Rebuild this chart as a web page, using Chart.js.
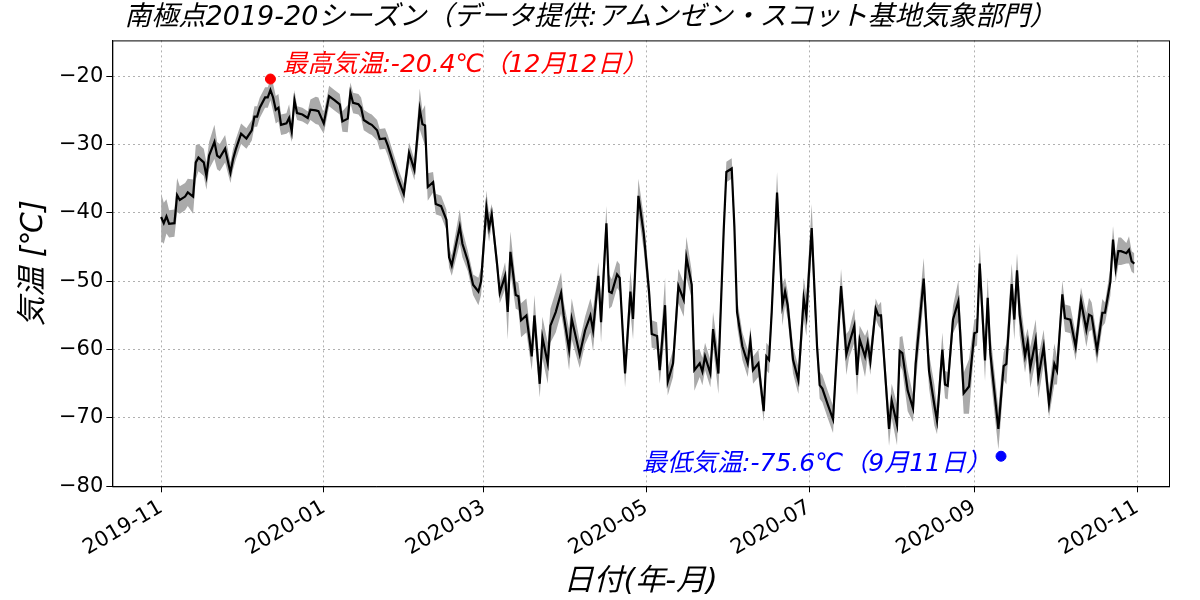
<!DOCTYPE html>
<html>
<head>
<meta charset="utf-8">
<script src="https://cdn.jsdelivr.net/npm/chart.js@4"></script>
<style>body{margin:0;background:#fff}</style>
</head>
<body>
<canvas id="c" width="1200" height="600"></canvas>
<script>
// day number from 2019-11-01, mean temp, half width of the grey band
var daily = [
[0,-40.6,3.5],[1,-41.5,3],[2,-40.5,2.5],[3,-41.6,2],[5,-41.5,2],[6,-37.4,2.5],[7,-38.1,2],[9,-37.6,2],[10,-37,2],[12,-37.6,2.5],
[13,-32.6,2.5],[14,-31.9,2],[16,-32.6,2],[17,-34.6,2],[18,-31.6,2],[20,-29.6,2.5],[21,-31.6,2],[22,-31.9,2],[24,-30.6,2],[26,-34.1,1.5],
[27,-32.1,1.5],[28,-30.7,1.5],[30,-28.4,1.5],[32,-29.1,1.5],[34,-27.9,1.5],[35,-25.9,1.5],[36,-25.9,1.5],[37,-24.6,1.5],[39,-23.1,1.5],[40,-23.1,1.5],
[41,-22,1.5],[42,-23.1,2],[43,-24.9,2],[44,-24.6,2],[45,-27.1,1.5],[47,-26.9,1.5],[48,-26.1,2],[49,-28.1,1.5],[50,-23.5,1.5],[51,-25.4,1],
[53,-25.6,1],[55,-26.1,1],[56,-24.9,1.5],[58,-25,2],[59,-25.1,2],[61,-26.9,1.5],[63,-22.9,1.5],[65,-23.5,1.5],[67,-24.1,1.5],[68,-26.6,1.5],
[70,-26.2,2],[71,-22.4,1.5],[72,-23.9,1.5],[74,-24.1,1.5],[75,-24.6,1.5],[76,-26.4,1.5],[78,-26.9,1.5],[79,-27.1,1.5],[81,-27.9,1.5],[82,-29.2,1.5],
[84,-29.1,1.5],[85,-30.1,1.5],[87,-32.6,1.5],[89,-35.1,1.5],[91,-37.2,1.5],[93,-31.2,1.5],[95,-33.7,1.5],[97,-24.8,3],[98,-27,2],[99,-27.2,3],
[100,-36.2,2],[102,-35.5,1.5],[103,-38.7,1.5],[105,-39,1.5],[107,-41,1.5],[108,-46.5,1.5],[109,-47.7,1.5],[112,-42,2.5],[113,-44.5,2],[115,-47,1.5],
[117,-50.5,1.5],[119,-51.5,2],[120,-50,2],[122,-39.2,2.5],[123,-42.2,2],[124,-40.2,1.5],[126,-47.5,1.5],[127,-51.7,1.5],[129,-49.2,2],[130,-54.5,4],
[131,-45.7,3],[133,-52,2],[134,-52.2,2],[135,-55.7,2.5],[137,-55,2.5],[139,-61,2],[140,-55,3],[142,-65,2],[143,-58.2,3],[145,-62,3],
[146,-56.5,2.5],[148,-54.5,3],[150,-51.7,3],[151,-55,2],[153,-60,3],[154,-55.5,3],[157,-60.7,2],[159,-57.2,2],[161,-55,2.5],[162,-57.2,3],
[164,-49.2,2],[165,-56,3],[167,-41.5,2.5],[168,-51.5,2.5],[169,-51.7,2],[171,-49,2],[172,-49.5,2],[174,-63.5,2],[176,-51.5,3],[177,-55.5,3],
[179,-37.5,2.5],[181,-43,2.5],[183,-51.5,2],[184,-57.7,2],[186,-58,2],[187,-63,2],[189,-53.5,4],[190,-64.7,2],[192,-62,2],[194,-50.7,2.5],
[196,-52.7,2.5],[197,-46.5,3],[199,-50.5,2],[200,-63,3],[202,-62,2],[203,-63.2,2],[204,-61,2],[206,-63.5,2],[207,-57,2.5],[209,-63.5,3],
[211,-42.5,2],[212,-34,1.5],[214,-33.5,1.5],[215,-42,2],[216,-54.5,2],[218,-59.5,2],[220,-62,2],[221,-58.7,2],[222,-63,2],[224,-62,2],
[226,-69,1.5],[227,-61,2],[228,-61.5,2],[229,-54.5,2],[231,-37,3],[233,-53.5,3],[234,-51.5,2],[235,-53.5,2],[237,-61.5,2],[239,-64.5,2],
[241,-52.5,3],[242,-55,3],[244,-42.2,3.5],[246,-59.5,2],[247,-65.2,2],[248,-65.7,2],[250,-68,2],[252,-70.2,2],[253,-63.5,2],[255,-50.7,2.5],
[257,-60.7,3],[258,-59.2,2],[260,-56.5,2.5],[261,-63.7,3],[262,-58.5,2],[264,-61,3],[265,-59,2],[266,-61.7,2],[268,-54,1.5],[269,-55,1.5],
[270,-55,2],[271,-60.5,2],[273,-71.6,2.5],[274,-67.5,2.5],[276,-71,3],[277,-60.2,2],[278,-60.5,2.5],[280,-66,3],[282,-68.6,2],[283,-62,3],
[286,-49.6,3],[288,-63.1,2.5],[290,-68.1,3],[291,-70.4,2],[293,-60,2.5],[294,-65.1,2],[295,-65.3,2],[297,-55.6,2],[299,-52.9,3],[301,-66.4,3],
[303,-65.4,4],[305,-57.6,2],[306,-57.4,2],[307,-47.4,3],[309,-61.6,3],[310,-52.4,3],[311,-60.6,3],[314,-71.6,3],[315,-67,3],[316,-62.4,2],
[317,-62.1,3],[319,-50.4,3],[320,-55.6,3],[321,-48.4,2.5],[322,-54.9,3],[324,-60.9,2.5],[325,-58.9,2],[326,-62.6,3],[328,-58.6,3],[329,-64.1,3],
[331,-59.6,2.5],[333,-67.9,2],[335,-62.1,3],[336,-63.1,2],[338,-51.9,2],[339,-55.4,2],[341,-55.6,2],[343,-59.6,2],[345,-52.9,2],[347,-57.1,2.5],
[348,-54.9,2.5],[349,-55.1,2],[351,-60.1,2],[353,-54.6,2],[354,-54.6,1.5],[356,-50.1,2],[357,-43.9,2],[358,-48.1,2],[359,-45.6,2],[360,-45.6,2],
[362,-45.9,1.5],[363,-45.4,2],[364,-47.1,1.5],[365,-47.4,1.5]
]
var tickDays = [0, 61, 121, 182, 243, 305, 366]
var tickLabels = ["2019-11", "2020-01", "2020-03", "2020-05", "2020-07", "2020-09", "2020-11"]
var yTicks = [-80, -70, -60, -50, -40, -30, -20]
var maxPoint = {x: 41, y: -20.4, text: "最高気温:-20.4℃（12月12日）"}
var minPoint = {x: 315, y: -75.6, text: "最低気温:-75.6℃（9月11日）"}

var meanData = daily.map(function(r){ return {x: r[0], y: r[1]} })
var lowData = daily.map(function(r){ return {x: r[0], y: r[1] - r[2]} })
var highData = daily.map(function(r){ return {x: r[0], y: r[1] + r[2]} })

var FONT = "'DejaVu Sans', 'Noto Sans CJK JP', sans-serif"

var notePlugin = {
  id: "notes",
  afterDraw: function(chart){
    var ctx = chart.ctx, xs = chart.scales.x, ys = chart.scales.y, a = chart.chartArea
    ctx.save()
    // box around the plot
    ctx.strokeStyle = "#000"
    ctx.lineWidth = 1
    ctx.strokeRect(a.left + 0.5, a.top + 0.5, a.right - a.left, a.bottom - a.top)
    ctx.font = "italic 25px " + FONT
    ctx.textBaseline = "middle"
    ctx.fillStyle = "red"
    ctx.textAlign = "left"
    ctx.fillText(maxPoint.text, xs.getPixelForValue(maxPoint.x) + 12, ys.getPixelForValue(maxPoint.y) - 14)
    ctx.fillStyle = "blue"
    ctx.textAlign = "right"
    ctx.fillText(minPoint.text, xs.getPixelForValue(minPoint.x) - 10, ys.getPixelForValue(minPoint.y) + 8)
    ctx.restore()
  }
}

new Chart(document.getElementById("c"), {
  type: "scatter",
  data: {
    datasets: [
      {data: [maxPoint], order: 0, pointRadius: 5, backgroundColor: "red", borderColor: "red"},
      {data: [minPoint], order: 0, pointRadius: 5, backgroundColor: "blue", borderColor: "blue"},
      {data: meanData, order: 1, showLine: true, pointRadius: 0, borderWidth: 2.2, borderColor: "#000"},
      {data: lowData, order: 3, showLine: true, pointRadius: 0, borderWidth: 0, borderColor: "rgba(0,0,0,0)", fill: false},
      {data: highData, order: 2, showLine: true, pointRadius: 0, borderWidth: 0, borderColor: "rgba(0,0,0,0)", fill: "-1", backgroundColor: "#aaaaaa"}
    ]
  },
  options: {
    responsive: false,
    animation: false,
    devicePixelRatio: 1,
    layout: {padding: {left: 12, right: 31, top: 2, bottom: 0}},
    plugins: {
      legend: {display: false},
      tooltip: {enabled: false},
      title: {display: true, text: "南極点2019-20シーズン（データ提供:アムンゼン・スコット基地気象部門）",
        color: "#000", font: {family: FONT, size: 27, style: "italic", weight: "normal"}, padding: {top: 0, bottom: 6}}
    },
    scales: {
      x: {
        type: "linear", min: -18.3, max: 378,
        afterBuildTicks: function(axis){ axis.ticks = tickDays.map(function(v){ return {value: v} }) },
        ticks: {
          callback: function(v){ return tickLabels[tickDays.indexOf(v)] },
          maxRotation: 30, minRotation: 30, color: "#000", font: {family: FONT, size: 21}
        },
        grid: {color: "#b0b0b0", lineWidth: 1, tickColor: "#000", tickLength: 6},
        border: {color: "#000", width: 1, dash: [2, 3]},
        title: {display: true, text: "日付(年-月)", color: "#000", font: {family: FONT, size: 30, style: "italic"}, padding: {top: 0, bottom: 0}}
      },
      y: {
        min: -80, max: -14.75,
        afterBuildTicks: function(axis){ axis.ticks = yTicks.map(function(v){ return {value: v} }) },
        ticks: {
          callback: function(v){ return String(v).replace("-", "\u2212") },
          color: "#000", font: {family: FONT, size: 21}
        },
        grid: {color: "#b0b0b0", lineWidth: 1, tickColor: "#000", tickLength: 6},
        border: {color: "#000", width: 1, dash: [2, 3]},
        title: {display: true, text: "気温 [℃]", color: "#000", font: {family: FONT, size: 30, style: "italic"}}
      }
    }
  },
  plugins: [notePlugin]
})
</script>
</body>
</html>
